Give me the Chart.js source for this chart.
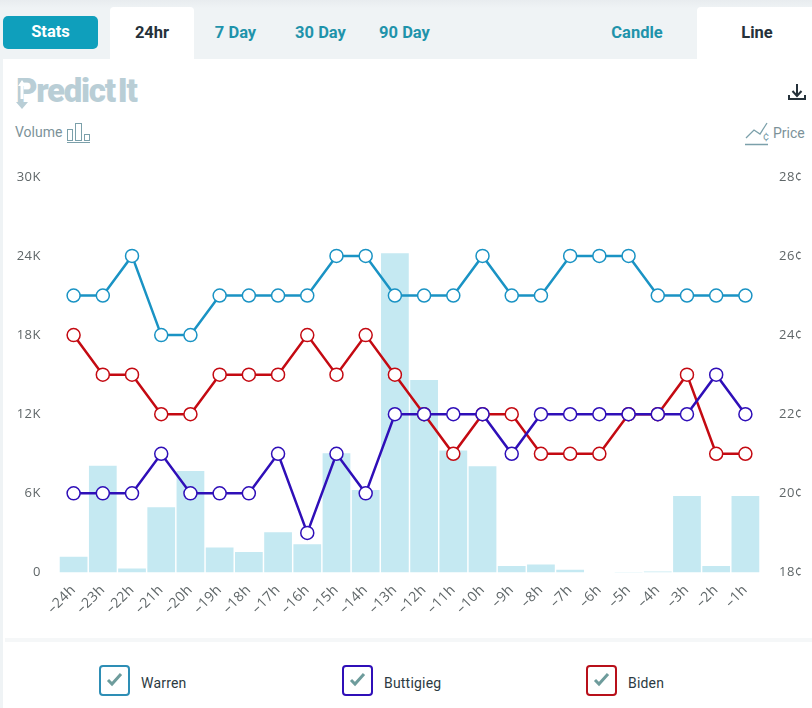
<!DOCTYPE html>
<html>
<head>
<meta charset="utf-8">
<script src="https://cdn.jsdelivr.net/npm/chart.js@4"></script>
<style>
  html, body { margin: 0; padding: 0; }
  body { width: 812px; height: 708px; position: relative; overflow: hidden; background: #fff; font-family: Roboto, sans-serif; }
  .abs { position: absolute; }
  #topBand { left: 0; top: 0; width: 812px; height: 59px; background: linear-gradient(#e8ecef 0, #eff3f5 8px); }
  #leftEdge { left: 0; top: 59px; width: 3px; height: 649px; background: #eff3f5; }
  #stats { left: 3px; top: 16px; width: 95px; height: 33px; line-height: 32px; border-radius: 5px; background: #0f9fbc; color: #fff; font-weight: 700; font-size: 16.5px; text-align: center; }
  .tab { top: 7px; height: 52px; line-height: 52px; font-size: 16.5px; font-weight: 700; text-align: center; color: #1f93ab; }
  .tab.active { background: #fff; color: #25313a; border-radius: 4px 4px 0 0; }
  #logo { left: 16px; top: 71px; font-size: 33px; line-height: 40px; font-weight: 900; letter-spacing: -1.3px; color: #b9ced6; }
  #logo span { margin-left: 3px; }
  .axisName { font-size: 14px; line-height: 18px; color: #7c9299; }
  #chartWrap { left: 0; top: 150px; width: 812px; height: 490px; }
  #footerLine { left: 5px; top: 638px; width: 807px; height: 4px; background: #f5f7f8; }
  .box { top: 665px; width: 27px; height: 27px; border: 2px solid; border-radius: 4px; }
  .legendName { top: 674px; font-size: 14px; line-height: 18px; font-weight: 400; letter-spacing: 0.2px; color: #2c3a42; }
</style>
</head>
<body>
<div class="abs" id="topBand"></div>
<div class="abs" id="leftEdge"></div>
<div class="abs" id="stats">Stats</div>
<div class="abs tab active" style="left:110px;width:84px">24hr</div>
<div class="abs tab" style="left:202px;width:67px">7 Day</div>
<div class="abs tab" style="left:284px;width:73px">30 Day</div>
<div class="abs tab" style="left:368px;width:73px">90 Day</div>
<div class="abs tab" style="left:600px;width:74px">Candle</div>
<div class="abs tab active" style="left:697px;width:120px">Line</div>

<div class="abs" id="logo">Predict<span>It</span></div>
<svg class="abs" style="left:14px;top:77px" width="16" height="34">
  <path d="M8 3l4 6h-2.5v13h-3v-13h-2.5z" fill="#fff"/>
  <path d="M2 25h12l-6 7z" fill="#b9ced6"/>
</svg>
<svg class="abs" style="left:787px;top:83px" width="20" height="20"><path d="M10 1v11M5.5 8l4.5 5 4.5-5M2 12v4h16v-4" fill="none" stroke="#25313a" stroke-width="2"/></svg>

<div class="abs axisName" style="left:15px;top:123px">Volume</div>
<svg class="abs" style="left:65px;top:121px" width="27" height="23" fill="none">
  <g stroke="#7ba0aa" stroke-width="1"><rect x="2.5" y="8.5" width="5" height="11"/><rect x="10.5" y="2.5" width="6" height="17"/><rect x="19.5" y="13.5" width="5" height="6"/><path d="M2 21.5h23"/></g>
</svg>
<svg class="abs" style="left:743px;top:121px" width="27" height="25" fill="none">
  <g stroke="#7ba0aa" stroke-width="1.3"><path d="M3 17l8-8 6 4 7-11M2 23.5h23"/></g>
  <text x="20" y="19" font-size="11" fill="#7ba0aa">¢</text>
</svg>
<div class="abs axisName" style="left:773px;top:124px">Price</div>

<div class="abs" id="chartWrap"><canvas id="predictChart" width="812" height="490"></canvas></div>
<div class="abs" id="footerLine"></div>

<div class="abs box" style="left:99px;border-color:#2e8eb5"></div>
<div class="abs box" style="left:342px;border-color:#2f0fb8"></div>
<div class="abs box" style="left:586px;border-color:#b8101a"></div>
<svg class="abs" style="left:106px;top:671px" width="18" height="16"><path d="M2 9l4 4 9-10" fill="none" stroke="#6e9c9c" stroke-width="3"/></svg>
<svg class="abs" style="left:349px;top:671px" width="18" height="16"><path d="M2 9l4 4 9-10" fill="none" stroke="#6e9c9c" stroke-width="3"/></svg>
<svg class="abs" style="left:593px;top:671px" width="18" height="16"><path d="M2 9l4 4 9-10" fill="none" stroke="#6e9c9c" stroke-width="3"/></svg>
<div class="abs legendName" style="left:141px">Warren</div>
<div class="abs legendName" style="left:384px">Buttigieg</div>
<div class="abs legendName" style="left:628px">Biden</div>

<script>
const hours = ["–24h", "–23h", "–22h", "–21h", "–20h", "–19h", "–18h", "–17h", "–16h", "–15h", "–14h", "–13h",
  "–12h", "–11h", "–10h", "–9h", "–8h", "–7h", "–6h", "–5h", "–4h", "–3h", "–2h", "–1h"];

const volume = [1200, 8100, 300, 4950, 7700, 1900, 1550, 3050, 2150, 9050, 6250, 24200,
  14600, 9250, 8050, 500, 600, 200, 0, 30, 80, 5800, 500, 5800];

const warren = [25, 25, 26, 24, 24, 25, 25, 25, 25, 26, 26, 25, 25, 25, 26, 25, 25, 26, 26, 26, 25, 25, 25, 25];
const biden = [24, 23, 23, 22, 22, 23, 23, 23, 24, 23, 24, 23, 22, 21, 22, 22, 21, 21, 21, 22, 22, 23, 21, 21];
const buttigieg = [20, 20, 20, 21, 20, 20, 20, 21, 19, 21, 20, 22, 22, 22, 22, 21, 22, 22, 22, 22, 22, 22, 23, 22];

const tickFont = { family: "'Open Sans', sans-serif", size: 13 };
const tickColor = "#5f6668";

// tick labels in the original are slightly tracked out
const tickSpacing = {
  id: "tickSpacing",
  beforeDraw(chart) {
    chart.ctx.letterSpacing = "0.5px";
  },
};

function priceLine(label, values, color, order) {
  return {
    type: "line",
    label,
    data: values,
    yAxisID: "price",
    order,
    borderColor: color,
    borderWidth: 2.5,
    tension: 0,
    pointRadius: 6.5,
    pointBorderWidth: 1.5,
    pointBackgroundColor: "#fff",
    pointBorderColor: color,
  };
}

new Chart(document.getElementById("predictChart"), {
  plugins: [tickSpacing],
  data: {
    labels: hours,
    datasets: [
      priceLine("Warren", warren, "#1a93c4", 3),
      priceLine("Biden", biden, "#c40a12", 2),
      priceLine("Buttigieg", buttigieg, "#2f0fb8", 1),
      {
        type: "bar",
        label: "Volume",
        data: volume,
        yAxisID: "volume",
        order: 4,
        backgroundColor: "#c5e9f2",
        categoryPercentage: 1,
        barPercentage: 0.95,
      },
    ],
  },
  options: {
    responsive: false,
    animation: false,
    layout: { padding: { top: 25.5 } },
    plugins: { legend: { display: false }, tooltip: { enabled: false } },
    scales: {
      x: {
        grid: { display: false },
        border: { display: false },
        afterFit: (axis) => { axis.height = 67.5; },
        ticks: {
          autoSkip: false,
          minRotation: 45,
          maxRotation: 45,
          padding: 1,
          color: tickColor,
          font: { family: "'Open Sans', sans-serif", size: 14 },
        },
      },
      volume: {
        position: "left",
        min: 0,
        max: 30000,
        grid: { display: false, drawTicks: false },
        border: { display: false },
        afterFit: (axis) => { axis.width = 59; },
        ticks: {
          stepSize: 6000,
          padding: 18,
          color: tickColor,
          font: tickFont,
          callback: (value) => (value === 0 ? "0" : `${value / 1000}K`),
        },
      },
      price: {
        position: "right",
        min: 18,
        max: 28,
        grid: { display: false, drawTicks: false },
        border: { display: false },
        afterFit: (axis) => { axis.width = 52; },
        ticks: {
          stepSize: 2,
          padding: 19,
          color: tickColor,
          font: tickFont,
          callback: (value) => `${value}¢`,
        },
      },
    },
  },
});
</script>
</body>
</html>
